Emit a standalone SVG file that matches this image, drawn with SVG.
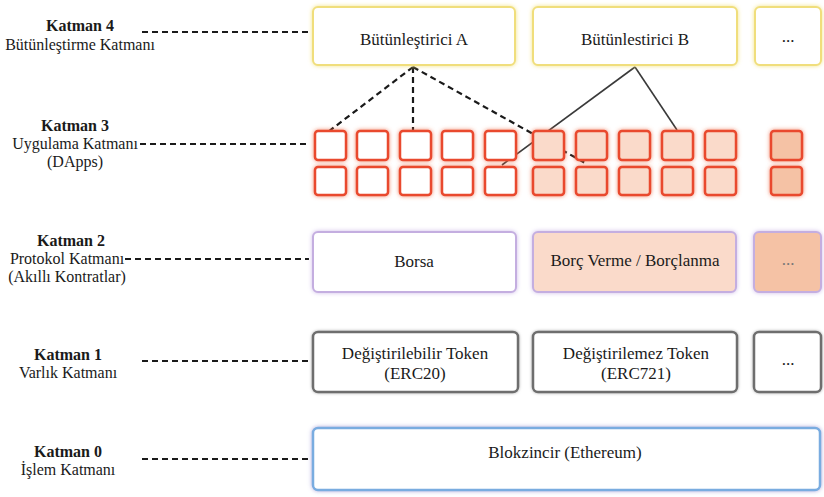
<svg xmlns="http://www.w3.org/2000/svg" width="824" height="497" viewBox="0 0 824 497" font-family="'Liberation Serif', 'DejaVu Serif', serif">
<defs>
<filter id="gy" x="-20%" y="-30%" width="140%" height="160%"><feDropShadow dx="0" dy="0" stdDeviation="2.2" flood-color="#f3e27a" flood-opacity="0.9"/></filter>
<filter id="gr" x="-40%" y="-40%" width="180%" height="180%"><feDropShadow dx="0" dy="0" stdDeviation="2.2" flood-color="#ee6a4a" flood-opacity="0.8"/></filter>
<filter id="gp" x="-20%" y="-30%" width="140%" height="160%"><feDropShadow dx="0" dy="0" stdDeviation="2.2" flood-color="#c9b3e6" flood-opacity="0.9"/></filter>
<filter id="gg" x="-20%" y="-30%" width="140%" height="160%"><feDropShadow dx="0" dy="0" stdDeviation="1.5" flood-color="#9a9a9a" flood-opacity="0.8"/></filter>
<filter id="gb" x="-10%" y="-30%" width="120%" height="160%"><feDropShadow dx="0" dy="0" stdDeviation="2.2" flood-color="#a9a3da" flood-opacity="0.9"/></filter>
</defs>
<style>
text{font-family:'Liberation Serif','DejaVu Serif',serif;font-size:17px;fill:#1a1a1a;text-anchor:middle}
.lb{font-size:16px}
.b{font-weight:bold}
.lead{stroke:#1a1a1a;stroke-width:2;stroke-dasharray:6 4;fill:none}
.l4{fill:#fff;stroke:#f0de7c;stroke-width:2;filter:url(#gy)}
.sq{stroke:#e94a2e;stroke-width:2.5;filter:url(#gr)}
.l2{stroke:#c4aee0;stroke-width:2;filter:url(#gp)}
.l1{fill:#fff;stroke:#6e6e6e;stroke-width:2.5;filter:url(#gg)}
.l0{fill:#fff;stroke:#79ace0;stroke-width:2.5;filter:url(#gb)}
.w{fill:#fff}.p{fill:#fadaca}.d{fill:#f5c2a5}
.da{stroke:#1a1a1a;stroke-width:2.2;stroke-dasharray:6 4;fill:none}
.so{stroke:#3a3a3a;stroke-width:1.6;fill:none}
</style>
<g id="labels">
<text class="lb b" x="80" y="31">Katman 4</text>
<text class="lb" x="80" y="50">Bütünleştirme Katmanı</text>
<text class="lb b" x="75" y="131">Katman 3</text>
<text class="lb" x="75" y="149">Uygulama Katmanı</text>
<text class="lb" x="75" y="167">(DApps)</text>
<text class="lb b" x="71" y="246">Katman 2</text>
<text class="lb" x="67" y="264">Protokol Katmanı</text>
<text class="lb" x="67" y="282">(Akıllı Kontratlar)</text>
<text class="lb b" x="68" y="360">Katman 1</text>
<text class="lb" x="68" y="378">Varlık Katmanı</text>
<text class="lb b" x="68" y="457">Katman 0</text>
<text class="lb" x="68" y="475">İşlem Katmanı</text>
</g>
<g id="connectors">
<line class="lead" x1="142" y1="32" x2="309" y2="32"/>
<line class="lead" x1="140" y1="144" x2="309" y2="144"/>
<line class="lead" x1="125" y1="259" x2="309" y2="259"/>
<line class="lead" x1="142" y1="361" x2="309" y2="361"/>
<line class="lead" x1="142" y1="459" x2="309" y2="459"/>
<line class="da" x1="413" y1="67" x2="328" y2="132"/>
<line class="da" x1="413" y1="67" x2="413" y2="131"/>
<line class="da" x1="413" y1="67" x2="587" y2="164"/>
<line class="so" x1="635" y1="67" x2="502" y2="165"/>
<line class="so" x1="635" y1="67" x2="677" y2="130"/>
</g>
<g id="layer4">
<g id="integratorA"><rect class="l4" x="313" y="7" width="202" height="58" rx="5"/><text x="414" y="45">Bütünleştirici A</text></g>
<g id="integratorB"><rect class="l4" x="533" y="7" width="204" height="58" rx="5"/><text x="635" y="45">Bütünlestirici B</text></g>
<g id="integratorMore"><rect class="l4" x="755" y="7" width="66" height="58" rx="5"/><text x="788" y="42">...</text></g>
</g>
<g id="layer3">
<g id="dapps-row1">
<rect class="sq w" x="315" y="131" width="31" height="29" rx="3"/>
<rect class="sq w" x="357" y="131" width="31" height="29" rx="3"/>
<rect class="sq w" x="400" y="131" width="31" height="29" rx="3"/>
<rect class="sq w" x="442" y="131" width="31" height="29" rx="3"/>
<rect class="sq w" x="485" y="131" width="31" height="29" rx="3"/>
<rect class="sq p" x="533" y="131" width="31" height="29" rx="3"/>
<rect class="sq p" x="576" y="131" width="31" height="29" rx="3"/>
<rect class="sq p" x="619" y="131" width="31" height="29" rx="3"/>
<rect class="sq p" x="662" y="131" width="31" height="29" rx="3"/>
<rect class="sq p" x="705" y="131" width="31" height="29" rx="3"/>
<rect class="sq d" x="771" y="131" width="31" height="29" rx="3"/>
</g>
<g id="dapps-row2">
<rect class="sq w" x="315" y="167" width="31" height="28" rx="3"/>
<rect class="sq w" x="357" y="167" width="31" height="28" rx="3"/>
<rect class="sq w" x="400" y="167" width="31" height="28" rx="3"/>
<rect class="sq w" x="442" y="167" width="31" height="28" rx="3"/>
<rect class="sq w" x="485" y="167" width="31" height="28" rx="3"/>
<rect class="sq p" x="533" y="167" width="31" height="28" rx="3"/>
<rect class="sq p" x="576" y="167" width="31" height="28" rx="3"/>
<rect class="sq p" x="619" y="167" width="31" height="28" rx="3"/>
<rect class="sq p" x="662" y="167" width="31" height="28" rx="3"/>
<rect class="sq p" x="705" y="167" width="31" height="28" rx="3"/>
<rect class="sq d" x="771" y="167" width="31" height="28" rx="3"/>
</g>
</g>
<g id="layer2">
<g id="borsa"><rect class="l2 w" x="313" y="232" width="203" height="60" rx="5"/><text x="414" y="267">Borsa</text></g>
<g id="borc"><rect class="l2 p" x="533" y="232" width="203" height="60" rx="5"/><text x="635" y="266">Borç Verme / Borçlanma</text></g>
<g id="protoMore"><rect class="l2 d" x="754" y="232" width="67" height="60" rx="5"/><text x="788" y="265" style="fill:#777">...</text></g>
</g>
<g id="layer1">
<g id="erc20"><rect class="l1" x="313" y="332" width="205" height="60" rx="5"/><text x="415" y="359">Değiştirilebilir Token</text><text x="415" y="379">(ERC20)</text></g>
<g id="erc721"><rect class="l1" x="533" y="332" width="204" height="60" rx="5"/><text x="636" y="359">Değiştirilemez Token</text><text x="636" y="379">(ERC721)</text></g>
<g id="assetMore"><rect class="l1" x="754" y="332" width="67" height="60" rx="5"/><text x="788" y="365">...</text></g>
</g>
<g id="layer0">
<g id="blockchain"><rect class="l0" x="313" y="428" width="507" height="62" rx="5"/><text x="565" y="458">Blokzincir (Ethereum)</text></g>
</g>
</svg>
